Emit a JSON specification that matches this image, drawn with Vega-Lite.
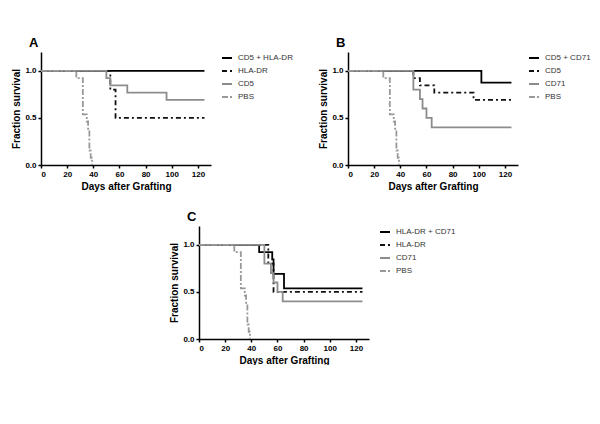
{
  "$schema": "https://vega.github.io/schema/vega-lite/v6.json",
  "padding": {"left": 11, "top": 37, "right": 0, "bottom": 0},
  "datasets": {
    "km": [
      {"panel": "A", "group": "CD5 + HLA-DR", "day": 0, "s": 1},
      {"panel": "A", "group": "CD5 + HLA-DR", "day": 125, "s": 1},
      {"panel": "A", "group": "HLA-DR", "day": 0, "s": 1},
      {"panel": "A", "group": "HLA-DR", "day": 53, "s": 0.8},
      {"panel": "A", "group": "HLA-DR", "day": 57, "s": 0.5},
      {"panel": "A", "group": "HLA-DR", "day": 125, "s": 0.5},
      {"panel": "A", "group": "CD5", "day": 0, "s": 1},
      {"panel": "A", "group": "CD5", "day": 50, "s": 0.923},
      {"panel": "A", "group": "CD5", "day": 53, "s": 0.846},
      {"panel": "A", "group": "CD5", "day": 66, "s": 0.769},
      {"panel": "A", "group": "CD5", "day": 96, "s": 0.692},
      {"panel": "A", "group": "CD5", "day": 125, "s": 0.692},
      {"panel": "A", "group": "PBS", "day": 0, "s": 1},
      {"panel": "A", "group": "PBS", "day": 27, "s": 0.923},
      {"panel": "A", "group": "PBS", "day": 32, "s": 0.538},
      {"panel": "A", "group": "PBS", "day": 35, "s": 0.462},
      {"panel": "A", "group": "PBS", "day": 36, "s": 0.385},
      {"panel": "A", "group": "PBS", "day": 37, "s": 0.154},
      {"panel": "A", "group": "PBS", "day": 38, "s": 0.077},
      {"panel": "A", "group": "PBS", "day": 39, "s": 0},

      {"panel": "B", "group": "CD5 + CD71", "day": 0, "s": 1},
      {"panel": "B", "group": "CD5 + CD71", "day": 102, "s": 0.875},
      {"panel": "B", "group": "CD5 + CD71", "day": 125, "s": 0.875},
      {"panel": "B", "group": "CD5", "day": 0, "s": 1},
      {"panel": "B", "group": "CD5", "day": 50, "s": 0.923},
      {"panel": "B", "group": "CD5", "day": 55, "s": 0.846},
      {"panel": "B", "group": "CD5", "day": 66, "s": 0.769},
      {"panel": "B", "group": "CD5", "day": 96, "s": 0.692},
      {"panel": "B", "group": "CD5", "day": 125, "s": 0.692},
      {"panel": "B", "group": "CD71", "day": 0, "s": 1},
      {"panel": "B", "group": "CD71", "day": 50, "s": 0.8},
      {"panel": "B", "group": "CD71", "day": 55, "s": 0.7},
      {"panel": "B", "group": "CD71", "day": 57, "s": 0.6},
      {"panel": "B", "group": "CD71", "day": 60, "s": 0.5},
      {"panel": "B", "group": "CD71", "day": 64, "s": 0.4},
      {"panel": "B", "group": "CD71", "day": 125, "s": 0.4},
      {"panel": "B", "group": "PBS", "day": 0, "s": 1},
      {"panel": "B", "group": "PBS", "day": 27, "s": 0.923},
      {"panel": "B", "group": "PBS", "day": 32, "s": 0.538},
      {"panel": "B", "group": "PBS", "day": 35, "s": 0.462},
      {"panel": "B", "group": "PBS", "day": 36, "s": 0.385},
      {"panel": "B", "group": "PBS", "day": 37, "s": 0.154},
      {"panel": "B", "group": "PBS", "day": 38, "s": 0.077},
      {"panel": "B", "group": "PBS", "day": 39, "s": 0},

      {"panel": "C", "group": "HLA-DR + CD71", "day": 0, "s": 1},
      {"panel": "C", "group": "HLA-DR + CD71", "day": 46, "s": 0.923},
      {"panel": "C", "group": "HLA-DR + CD71", "day": 56, "s": 0.846},
      {"panel": "C", "group": "HLA-DR + CD71", "day": 57, "s": 0.692},
      {"panel": "C", "group": "HLA-DR + CD71", "day": 65, "s": 0.538},
      {"panel": "C", "group": "HLA-DR + CD71", "day": 125, "s": 0.538},
      {"panel": "C", "group": "HLA-DR", "day": 0, "s": 1},
      {"panel": "C", "group": "HLA-DR", "day": 53, "s": 0.8},
      {"panel": "C", "group": "HLA-DR", "day": 57, "s": 0.5},
      {"panel": "C", "group": "HLA-DR", "day": 125, "s": 0.5},
      {"panel": "C", "group": "CD71", "day": 0, "s": 1},
      {"panel": "C", "group": "CD71", "day": 50, "s": 0.8},
      {"panel": "C", "group": "CD71", "day": 55, "s": 0.7},
      {"panel": "C", "group": "CD71", "day": 57, "s": 0.6},
      {"panel": "C", "group": "CD71", "day": 60, "s": 0.5},
      {"panel": "C", "group": "CD71", "day": 64, "s": 0.4},
      {"panel": "C", "group": "CD71", "day": 125, "s": 0.4},
      {"panel": "C", "group": "PBS", "day": 0, "s": 1},
      {"panel": "C", "group": "PBS", "day": 27, "s": 0.923},
      {"panel": "C", "group": "PBS", "day": 32, "s": 0.538},
      {"panel": "C", "group": "PBS", "day": 35, "s": 0.462},
      {"panel": "C", "group": "PBS", "day": 36, "s": 0.385},
      {"panel": "C", "group": "PBS", "day": 37, "s": 0.154},
      {"panel": "C", "group": "PBS", "day": 38, "s": 0.077},
      {"panel": "C", "group": "PBS", "day": 39, "s": 0}
    ]
  },
  "data": {"name": "km"},
  "config": {
    "view": {"stroke": null},
    "font": "Liberation Sans",
    "axis": {
      "grid": false,
      "domainColor": "#000",
      "domainWidth": 1.5,
      "tickColor": "#000",
      "tickWidth": 1.5,
      "tickSize": 3,
      "labelFontSize": 8,
      "labelFontWeight": "bold",
      "labelColor": "#000",
      "labelPadding": 2,
      "titleFontSize": 10,
      "titleFontWeight": "bold",
      "titleColor": "#000",
      "titlePadding": 3
    },
    "legend": {
      "orient": "right",
      "offset": 10,
      "title": null,
      "labelFontSize": 8,
      "labelColor": "#333",
      "symbolType": "stroke",
      "symbolSize": 100,
      "symbolStrokeWidth": 2,
      "rowPadding": 3,
      "labelOffset": 5,
      "padding": 0
    },
    "title": {
      "fontSize": 13,
      "fontWeight": "bold",
      "anchor": "start",
      "frame": "group",
      "dx": -12,
      "offset": 2,
      "color": "#000"
    },
    "line": {"interpolate": "step-after", "strokeWidth": 1.8}
  },
  "spacing": 20,
  "resolve": {"scale": {"color": "independent", "strokeDash": "independent"}},
  "vconcat": [
    {
      "spacing": 25,
      "resolve": {"scale": {"color": "independent", "strokeDash": "independent"}},
      "hconcat": [
        {
          "width": 170,
          "height": 113,
          "title": "A",
          "transform": [{"filter": "datum.panel === 'A'"}],
          "mark": "line",
          "encoding": {
            "x": {"field": "day", "type": "quantitative", "scale": {"domain": [0, 130], "nice": false}, "axis": {"values": [0, 20, 40, 60, 80, 100, 120], "title": "Days after Grafting"}},
            "y": {"field": "s", "type": "quantitative", "scale": {"domain": [0, 1.2], "nice": false}, "axis": {"values": [0, 0.5, 1], "format": ".1f", "title": "Fraction survival"}},
            "color": {"field": "group", "type": "nominal", "scale": {"domain": ["CD5 + HLA-DR", "HLA-DR", "CD5", "PBS"], "range": ["#000000", "#111111", "#8c8c8c", "#999999"]}},
            "strokeDash": {"field": "group", "type": "nominal", "scale": {"domain": ["CD5 + HLA-DR", "HLA-DR", "CD5", "PBS"], "range": [[1, 0], [5, 3, 2, 3], [1, 0], [6, 2, 2, 2]]}}
          }
        },
        {
          "width": 170,
          "height": 113,
          "title": "B",
          "transform": [{"filter": "datum.panel === 'B'"}],
          "mark": "line",
          "encoding": {
            "x": {"field": "day", "type": "quantitative", "scale": {"domain": [0, 130], "nice": false}, "axis": {"values": [0, 20, 40, 60, 80, 100, 120], "title": "Days after Grafting"}},
            "y": {"field": "s", "type": "quantitative", "scale": {"domain": [0, 1.2], "nice": false}, "axis": {"values": [0, 0.5, 1], "format": ".1f", "title": "Fraction survival"}},
            "color": {"field": "group", "type": "nominal", "scale": {"domain": ["CD5 + CD71", "CD5", "CD71", "PBS"], "range": ["#000000", "#111111", "#8c8c8c", "#999999"]}},
            "strokeDash": {"field": "group", "type": "nominal", "scale": {"domain": ["CD5 + CD71", "CD5", "CD71", "PBS"], "range": [[1, 0], [5, 3, 2, 3], [1, 0], [6, 2, 2, 2]]}}
          }
        }
      ]
    },
    {
      "spacing": 0,
      "resolve": {"scale": {"color": "independent", "strokeDash": "independent"}},
      "hconcat": [
        {
          "width": 128,
          "height": 10,
          "data": {"values": []},
          "mark": "text",
          "encoding": {}
        },
        {
          "width": 170,
          "height": 113,
          "title": "C",
          "transform": [{"filter": "datum.panel === 'C'"}],
          "mark": "line",
          "encoding": {
            "x": {"field": "day", "type": "quantitative", "scale": {"domain": [0, 130], "nice": false}, "axis": {"values": [0, 20, 40, 60, 80, 100, 120], "title": "Days after Grafting"}},
            "y": {"field": "s", "type": "quantitative", "scale": {"domain": [0, 1.2], "nice": false}, "axis": {"values": [0, 0.5, 1], "format": ".1f", "title": "Fraction survival"}},
            "color": {"field": "group", "type": "nominal", "scale": {"domain": ["HLA-DR + CD71", "HLA-DR", "CD71", "PBS"], "range": ["#000000", "#111111", "#8c8c8c", "#999999"]}},
            "strokeDash": {"field": "group", "type": "nominal", "scale": {"domain": ["HLA-DR + CD71", "HLA-DR", "CD71", "PBS"], "range": [[1, 0], [5, 3, 2, 3], [1, 0], [6, 2, 2, 2]]}}
          }
        }
      ]
    }
  ]
}
